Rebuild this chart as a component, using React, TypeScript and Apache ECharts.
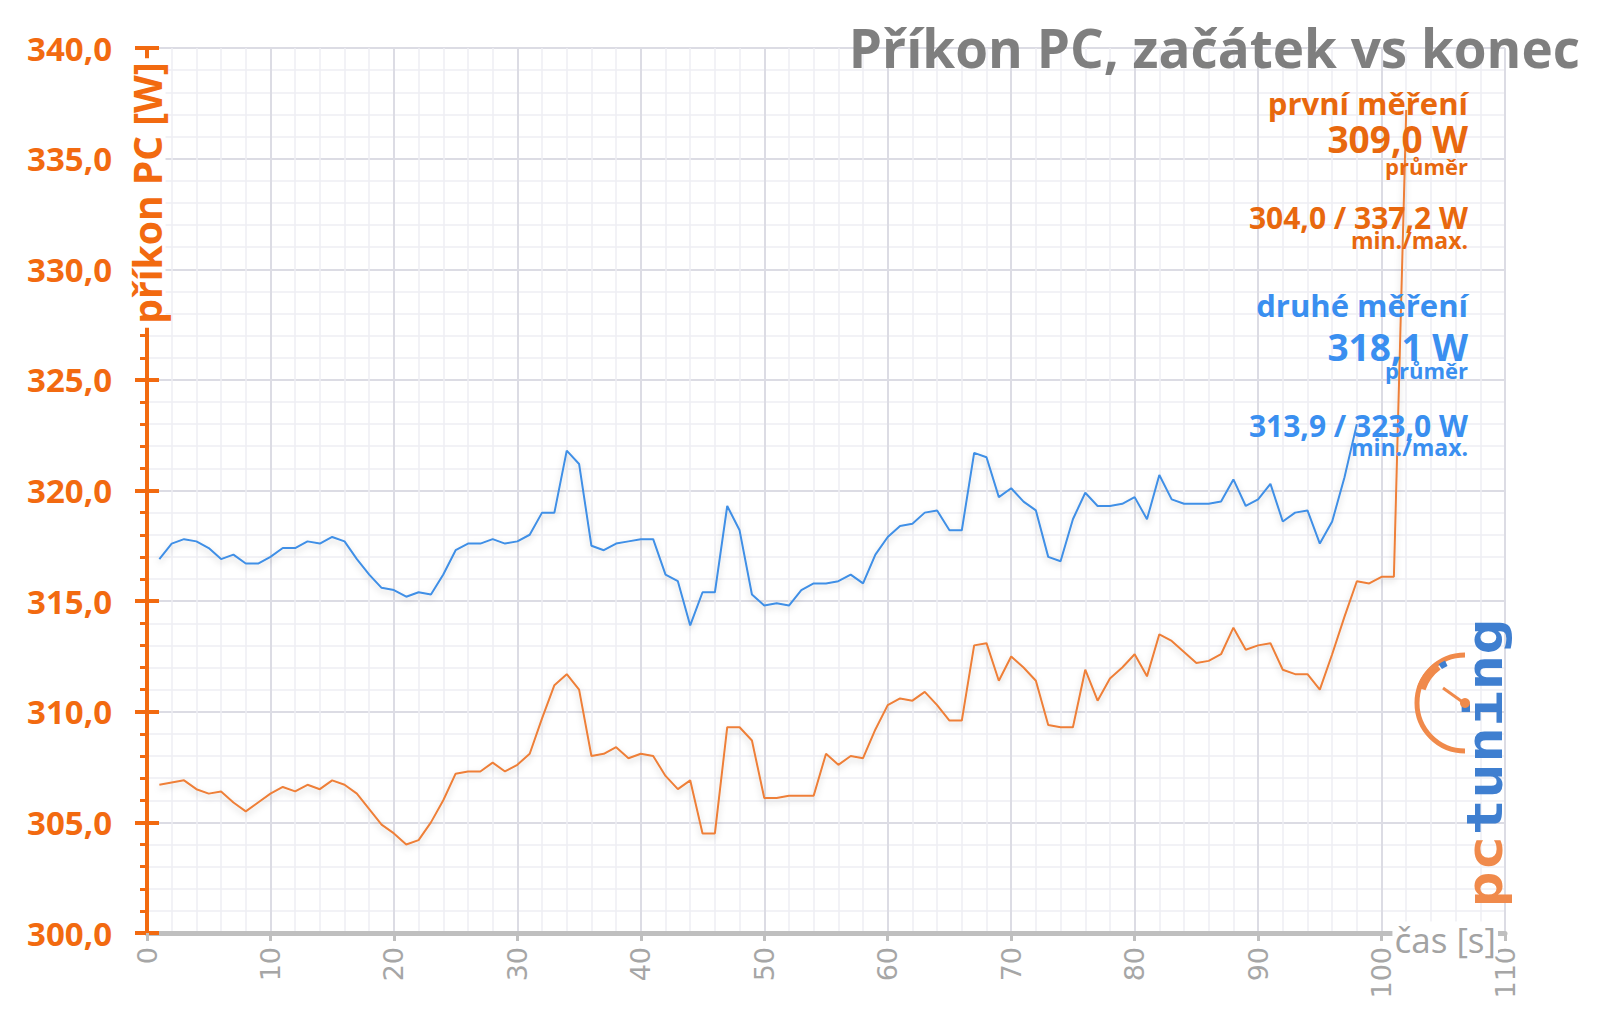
import React, { useEffect, useRef } from "react";
import * as echarts from "echarts";

// first measurement (orange), one sample per second starting at t = 1 s
const firstMeasurement = [
  306.7, 306.8, 306.9, 306.5, 306.3, 306.4, 305.9, 305.5, 305.9, 306.3,
  306.6, 306.4, 306.7, 306.5, 306.9, 306.7, 306.3, 305.6, 304.9, 304.5,
  304.0, 304.2, 305.0, 306.0, 307.2, 307.3, 307.3, 307.7, 307.3, 307.6,
  308.1, 309.7, 311.2, 311.7, 311.0, 308.0, 308.1, 308.4, 307.9, 308.1,
  308.0, 307.1, 306.5, 306.9, 304.5, 304.5, 309.3, 309.3, 308.7, 306.1,
  306.1, 306.2, 306.2, 306.2, 308.1, 307.6, 308.0, 307.9, 309.2, 310.3,
  310.6, 310.5, 310.9, 310.3, 309.6, 309.6, 313.0, 313.1, 311.4, 312.5,
  312.0, 311.4, 309.4, 309.3, 309.3, 311.9, 310.5, 311.5, 312.0, 312.6,
  311.6, 313.5, 313.2, 312.7, 312.2, 312.3, 312.6, 313.8, 312.8, 313.0,
  313.1, 311.9, 311.7, 311.7, 311.0, 312.6, 314.3, 315.9, 315.8, 316.1,
  316.1, 337.2,
];

// second measurement (blue)
const secondMeasurement = [
  316.9, 317.6, 317.8, 317.7, 317.4, 316.9, 317.1, 316.7, 316.7, 317.0,
  317.4, 317.4, 317.7, 317.6, 317.9, 317.7, 316.9, 316.2, 315.6, 315.5,
  315.2, 315.4, 315.3, 316.2, 317.3, 317.6, 317.6, 317.8, 317.6, 317.7,
  318.0, 319.0, 319.0, 321.8, 321.2, 317.5, 317.3, 317.6, 317.7, 317.8,
  317.8, 316.2, 315.9, 313.9, 315.4, 315.4, 319.3, 318.2, 315.3, 314.8,
  314.9, 314.8, 315.5, 315.8, 315.8, 315.9, 316.2, 315.8, 317.1, 317.9,
  318.4, 318.5, 319.0, 319.1, 318.2, 318.2, 321.7, 321.5, 319.7, 320.1,
  319.5, 319.1, 317.0, 316.8, 318.7, 319.9, 319.3, 319.3, 319.4, 319.7,
  318.7, 320.7, 319.6, 319.4, 319.4, 319.4, 319.5, 320.5, 319.3, 319.6,
  320.3, 318.6, 319.0, 319.1, 317.6, 318.6, 320.6, 323.0,
];

const titleText = "Příkon PC, začátek vs konec";
const yAxisTitle = "příkon PC [W]";
const xAxisTitle = "čas [s]";

const firstLabels = ["první měření", "309,0 W", "průměr", "304,0 / 337,2 W", "min./max."];
const secondLabels = ["druhé měření", "318,1 W", "průměr", "313,9 / 323,0 W", "min./max."];

const ORANGE_AXIS = "#f26a10";
const ORANGE_TEXT = "#e8680e";
const ORANGE_LINE = "#ee7f38";
const BLUE_LINE = "#3f8fe6";
const BLUE_TEXT = "#3a8ff0";
const GRID_MAJOR = "#dcdce4";
const GRID_MINOR = "#eeeef3";

const toPairs = (vals: number[]) => vals.map((v, i) => [i + 1, v]);

export default function App() {
  const ref = useRef<HTMLDivElement>(null);

  useEffect(() => {
    if (!ref.current) return;
    const chart = echarts.init(ref.current, undefined, { renderer: "svg" });

    const font = "Open Sans";
    const annotation = (text: string, y: number, size: number, color: string) => ({
      type: "text",
      x: 1468,
      y,
      z: 50,
      style: {
        text,
        fill: color,
        fontFamily: font,
        fontWeight: "bold",
        fontSize: size,
        align: "right",
        verticalAlign: "middle",
      },
    });

    const sizes = [31, 37, 22, 30, 23];
    const firstY = [103, 138, 166, 217, 240];
    const secondY = [305, 346, 370, 425, 447];

    const option: any = {
      animation: false,
      backgroundColor: "#ffffff",
      grid: { left: 147, right: 95, top: 48, bottom: 84, containLabel: false },
      xAxis: {
        type: "value",
        min: 0,
        max: 110,
        interval: 10,
        axisLine: { show: true, lineStyle: { color: "#bfbfbf", width: 5 } },
        axisTick: { show: true, length: 8, lineStyle: { color: "#bfbfbf", width: 3 } },
        axisLabel: {
          rotate: 90,
          color: "#a6a6a6",
          fontFamily: "DejaVu Sans",
          fontSize: 27,
          margin: 14,
          showMaxLabel: true,
          showMinLabel: true,
        },
        splitLine: { show: true, lineStyle: { color: GRID_MAJOR, width: 2 } },
        minorTick: { show: false, splitNumber: 5 },
        minorSplitLine: { show: true, lineStyle: { color: GRID_MINOR, width: 1.5 } },
      },
      yAxis: [
        {
          type: "value",
          min: 300,
          max: 340,
          interval: 5,
          position: "left",
          axisLine: { show: true, onZero: false, lineStyle: { color: ORANGE_AXIS, width: 4 } },
          axisTick: { show: true, inside: false, length: 12, lineStyle: { color: ORANGE_AXIS, width: 4 } },
          minorTick: { show: true, splitNumber: 5, length: 7, lineStyle: { color: ORANGE_AXIS, width: 3 } },
          axisLabel: {
            formatter: (v: number) => v.toFixed(1).replace(".", ","),
            color: ORANGE_AXIS,
            fontFamily: font,
            fontWeight: "bold",
            fontSize: 33,
            margin: 35,
          },
          splitLine: { show: true, lineStyle: { color: GRID_MAJOR, width: 2 } },
          minorSplitLine: { show: true, lineStyle: { color: GRID_MINOR, width: 1.5 } },
        },
        {
          type: "value",
          min: 300,
          max: 340,
          interval: 5,
          position: "left",
          axisLine: { show: false },
          axisTick: { show: true, inside: true, length: 12, lineStyle: { color: ORANGE_AXIS, width: 4 } },
          axisLabel: { show: false },
          splitLine: { show: false },
        },
      ],
      series: [
        {
          name: "druhé měření",
          type: "line",
          data: toPairs(secondMeasurement),
          showSymbol: false,
          symbol: "none",
          lineStyle: {
            color: BLUE_LINE,
            width: 2,
            shadowColor: "rgba(0,0,0,0.18)",
            shadowBlur: 6,
            shadowOffsetY: 3,
          },
          z: 3,
        },
        {
          name: "první měření",
          type: "line",
          data: toPairs(firstMeasurement),
          showSymbol: false,
          symbol: "none",
          lineStyle: {
            color: ORANGE_LINE,
            width: 2,
            shadowColor: "rgba(0,0,0,0.18)",
            shadowBlur: 6,
            shadowOffsetY: 3,
          },
          z: 3,
        },
      ],
      graphic: [
        {
          type: "text",
          x: 1580,
          y: 47,
          z: 50,
          style: {
            text: titleText,
            fill: "#7f7f7f",
            fontFamily: font,
            fontWeight: "bold",
            fontSize: 53,
            align: "right",
            verticalAlign: "middle",
          },
        },
        {
          type: "text",
          x: 146,
          y: 193,
          rotation: Math.PI / 2,
          z: 50,
          style: {
            text: yAxisTitle,
            fill: ORANGE_AXIS,
            fontFamily: font,
            fontWeight: "bold",
            fontSize: 39,
            align: "center",
            verticalAlign: "middle",
            backgroundColor: "#ffffff",
            padding: [0, 4],
          },
        },
        {
          type: "text",
          x: 1498,
          y: 939,
          z: 50,
          style: {
            text: xAxisTitle,
            fill: "#a3a3a3",
            fontFamily: font,
            fontSize: 35,
            align: "right",
            verticalAlign: "middle",
            backgroundColor: "#ffffff",
            padding: [0, 2],
          },
        },
        ...firstLabels.map((t, i) => annotation(t, firstY[i], sizes[i], ORANGE_TEXT)),
        ...secondLabels.map((t, i) => annotation(t, secondY[i], sizes[i], BLUE_TEXT)),
        // logo gauge
        {
          type: "arc",
          z: 40,
          shape: { cx: 1465, cy: 703, r: 48, startAngle: Math.PI / 2, endAngle: (3 * Math.PI) / 2, clockwise: true },
          style: { stroke: "#f08a4b", lineWidth: 5, fill: "none" },
        },
        {
          type: "arc",
          z: 40,
          shape: { cx: 1465, cy: 703, r: 46, startAngle: 1.1 * Math.PI, endAngle: 1.3 * Math.PI, clockwise: true },
          style: { stroke: "#f08a4b", lineWidth: 9, fill: "none" },
        },
        {
          type: "arc",
          z: 41,
          shape: { cx: 1465, cy: 703, r: 44, startAngle: 1.31 * Math.PI, endAngle: 1.36 * Math.PI, clockwise: true },
          style: { stroke: "#3f7fd0", lineWidth: 6, fill: "none" },
        },
        {
          type: "line",
          z: 41,
          shape: { x1: 1443, y1: 688, x2: 1464, y2: 703 },
          style: { stroke: "#f08a4b", lineWidth: 3 },
        },
        {
          type: "circle",
          z: 41,
          shape: { cx: 1465, cy: 703, r: 5 },
          style: { fill: "#f08a4b" },
        },
        {
          type: "text",
          x: 1485,
          y: 763,
          rotation: Math.PI / 2,
          scaleX: 1.2,
          z: 40,
          style: {
            text: "{a|pc}{b|tuning}",
            fontFamily: "DejaVu Sans Mono",
            fontWeight: "bold",
            fontSize: 50,
            align: "center",
            verticalAlign: "middle",
            rich: {
              a: { fill: "#f08a4b", fontFamily: "DejaVu Sans Mono", fontWeight: "bold", fontSize: 50 },
              b: { fill: "#3f7fd0", fontFamily: "DejaVu Sans Mono", fontWeight: "bold", fontSize: 50 },
            },
          },
        },
      ],
    };

    chart.setOption(option);
    return () => chart.dispose();
  }, []);

  return (
    <div
      ref={ref}
      style={{ position: "absolute", left: 0, top: 0, width: 1600, height: 1017, background: "#fff" }}
    />
  );
}
